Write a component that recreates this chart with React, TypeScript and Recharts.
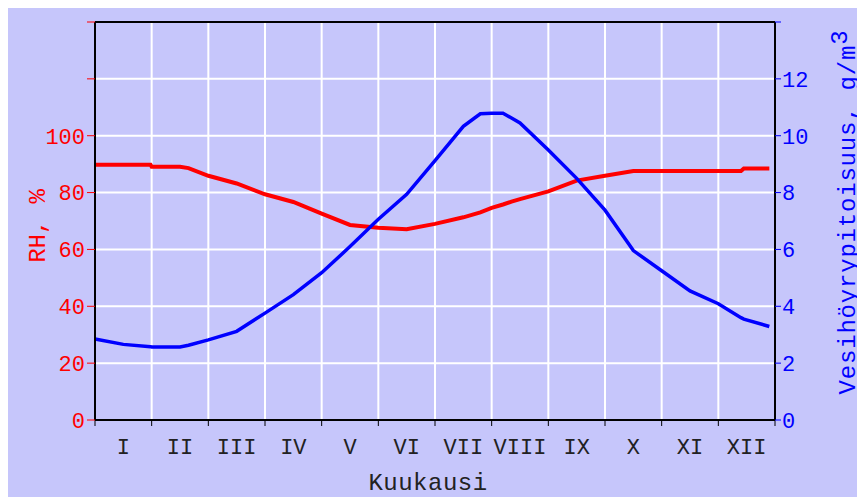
import React from "react";
import {
  LineChart,
  Line,
  XAxis,
  YAxis,
  CartesianGrid,
  ReferenceLine,
  Customized,
} from "recharts";

// month position (0 = start of January, 12 = end of December)
const months = [
  0, 0.5, 0.98, 1, 1.5, 1.65, 2, 2.5, 3, 3.5, 4, 4.5, 5, 5.5, 6, 6.5, 6.8, 7,
  7.2, 7.35, 7.5, 8, 8.5, 9, 9.5, 10, 10.5, 11, 11.4, 11.45, 11.9,
];
// relative humidity, %
const rh = [
  89.8, 89.8, 89.8, 89.1, 89.1, 88.6, 85.9, 83.2, 79.4, 76.7, 72.6, 68.6, 67.6,
  67.1, 69.0, 71.3, 73.0, 74.6, 75.8, 76.8, 77.7, 80.4, 84.2, 85.9, 87.6, 87.6,
  87.6, 87.6, 87.6, 88.5, 88.5,
];
// water vapour content, g/m3
const ah = [
  2.85, 2.66, 2.58, 2.57, 2.57, 2.63, 2.82, 3.12, 3.76, 4.41, 5.18, 6.1, 7.06,
  7.94, 9.12, 10.33, 10.77, 10.79, 10.79, 10.62, 10.45, 9.5, 8.5, 7.38, 5.96,
  5.25, 4.54, 4.09, 3.6, 3.55, 3.29,
];

const monthLabels = ["I", "II", "III", "IV", "V", "VI", "VII", "VIII", "IX", "X", "XI", "XII"];
const monthTicks = [0, 1, 2, 3, 4, 5, 6, 7, 8, 9, 10, 11, 12];
const rhTicks = [0, 20, 40, 60, 80, 100, 120, 140];
const ahTicks = [0, 2, 4, 6, 8, 10, 12, 14];

const data = months.map((m, i) => ({ m, rh: rh[i], ah: ah[i] }));

const FONT = '"Liberation Mono", "Courier New", monospace';
const W = 857;
const H = 489;
const LEFT_W = 87;
const RIGHT_W = 90;
const TOP = 14;
const X_H = 77;
const HALF_MONTH = (W - LEFT_W - RIGHT_W) / 24;

const MonthTick = (props: any) => {
  const { x, y, payload } = props;
  if (payload.value >= 12) return <g />;
  return (
    <text
      x={x + HALF_MONTH}
      y={y}
      dy={26}
      textAnchor="middle"
      fill="#222"
      fontFamily={FONT}
      fontSize={22}
    >
      {monthLabels[payload.value]}
    </text>
  );
};

const Titles = () => (
  <g fontFamily={FONT} fontSize={24}>
    <text x={420} y={482} textAnchor="middle" fill="#222" letterSpacing={0.5}>
      Kuukausi
    </text>
    <text
      x={0}
      y={0}
      transform="translate(29 218) rotate(-90)"
      dy={8}
      textAnchor="middle"
      fill="#ff0000"
    >
      RH,
      <tspan dx={16}>%</tspan>
    </text>
    <text
      x={0}
      y={0}
      transform="translate(839 204) rotate(-90)"
      dy={8}
      textAnchor="middle"
      fill="#0000ff"
      letterSpacing={0.8}
    >
      Vesihöyrypitoisuus, g/m
      <tspan dy={-8}>3</tspan>
    </text>
  </g>
);

export default function App() {
  return (
    <div style={{ width: W, height: H, background: "#c6c6fb" }}>
      <LineChart
        width={W}
        height={H}
        data={data}
        margin={{ top: TOP, right: 0, left: 0, bottom: 0 }}
      >
        <CartesianGrid yAxisId="left" stroke="#ffffff" strokeWidth={2} />
        <XAxis
          dataKey="m"
          type="number"
          domain={[0, 12]}
          ticks={monthTicks}
          interval={0}
          height={X_H}
          tick={MonthTick}
          tickSize={6}
          tickMargin={2}
          tickLine={{ stroke: "#000" }}
          axisLine={{ stroke: "#000", strokeWidth: 2 }}
        />
        <YAxis
          yAxisId="left"
          domain={[0, 140]}
          ticks={rhTicks}
          interval={0}
          width={LEFT_W}
          tickSize={8}
          tickMargin={2}
          tickFormatter={(v: number) => (v > 100 ? "" : String(v))}
          tick={{ fill: "#ff0000", fontFamily: FONT, fontSize: 22 }}
          tickLine={{ stroke: "#ff0000" }}
          axisLine={{ stroke: "#000", strokeWidth: 2 }}
        />
        <YAxis
          yAxisId="right"
          orientation="right"
          domain={[0, 14]}
          ticks={ahTicks}
          interval={0}
          width={RIGHT_W}
          tickSize={6}
          tickMargin={1}
          tickFormatter={(v: number) => (v > 12 ? "" : String(v))}
          tick={{ fill: "#0000ff", fontFamily: FONT, fontSize: 22 }}
          tickLine={{ stroke: "#0000ff" }}
          axisLine={{ stroke: "#000", strokeWidth: 2 }}
        />
        <ReferenceLine yAxisId="left" y={140} stroke="#000" strokeWidth={2} />
        <Line
          yAxisId="left"
          dataKey="rh"
          type="linear"
          stroke="#ff0000"
          strokeWidth={4}
          dot={false}
          isAnimationActive={false}
        />
        <Line
          yAxisId="right"
          dataKey="ah"
          type="linear"
          stroke="#0000ff"
          strokeWidth={3.5}
          dot={false}
          isAnimationActive={false}
        />
        <Customized component={Titles} />
      </LineChart>
    </div>
  );
}
